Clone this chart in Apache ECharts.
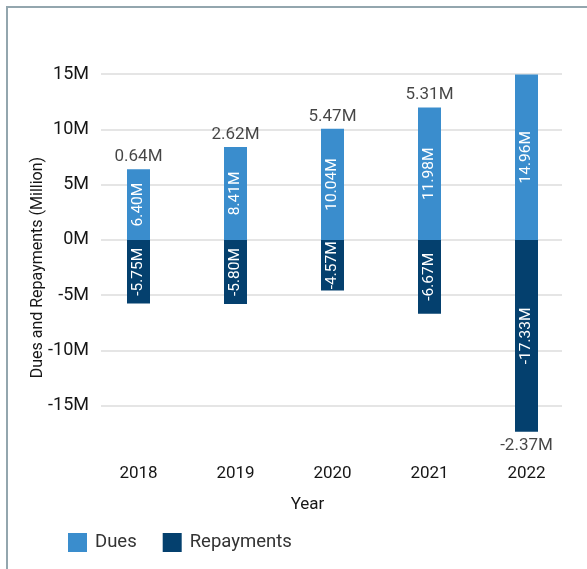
<!DOCTYPE html>
<html>
<head>
<meta charset="utf-8">
<script src="https://cdn.jsdelivr.net/npm/echarts@6/dist/echarts.min.js"></script>
<style>
  html, body { margin: 0; padding: 0; background: #fff; }
  #chart { width: 587px; height: 569px; }
</style>
</head>
<body>
<div id="chart"></div>
<script>
// Yearly dues and repayments (in millions)
const years = ['2018', '2019', '2020', '2021', '2022'];
const dues = [6.40, 8.41, 10.04, 11.98, 14.96];
const repayments = [-5.75, -5.80, -4.57, -6.67, -17.33];
const netBalance = [0.64, 2.62, 5.47, 5.31, -2.37];
const yTicks = { min: -15, max: 15, step: 5 };

const FONT = 'Roboto, sans-serif';
const TEXT = '#161616';
const DUES_COLOR = '#3a8dcd';
const REPAY_COLOR = '#04406e';

const chart = echarts.init(document.getElementById('chart'), null, { renderer: 'canvas' });

// Net label sits above the stack when positive, below it when negative
const netPoints = years.map((y, i) => {
  const positive = netBalance[i] >= 0;
  return {
    value: [y, positive ? dues[i] : repayments[i]],
    net: netBalance[i],
    label: { position: positive ? 'top' : 'bottom', distance: positive ? 4 : 6 }
  };
});

chart.setOption({
  animation: false,
  textStyle: { fontFamily: FONT },
  graphic: [{
    type: 'rect',
    shape: { x: 7, y: 7, width: 700, height: 700 },
    style: { fill: 'none', stroke: '#93a6ae', lineWidth: 2 },
    silent: true
  }],
  legend: {
    left: 63, top: 528,
    icon: 'rect',
    itemWidth: 19, itemHeight: 19, itemGap: 26,
    textStyle: { fontSize: 18.5, color: '#333', fontFamily: FONT, padding: [0, 0, 0, 3] },
    data: ['Dues', 'Repayments']
  },
  grid: [
    { left: 101, right: 25, top: 74, bottom: 163.3 },
    { left: 90, right: 12, top: 74, bottom: 107.8 }
  ],
  xAxis: [
    { gridIndex: 0, type: 'value', show: false },
    {
      gridIndex: 1, type: 'category', data: years,
      axisLine: { show: false }, axisTick: { show: false },
      axisLabel: { fontSize: 17, color: TEXT, margin: 4, fontFamily: FONT },
      name: 'Year', nameLocation: 'middle', nameGap: 35,
      nameTextStyle: { fontSize: 17, color: TEXT, fontFamily: FONT, padding: [0, 50, 0, 0] }
    }
  ],
  yAxis: [
    {
      gridIndex: 0, type: 'value',
      min: yTicks.min, max: yTicks.max, interval: yTicks.step,
      axisLine: { show: false }, axisTick: { show: false },
      axisLabel: { fontSize: 18, color: TEXT, margin: 12, fontFamily: FONT, formatter: v => v + 'M' },
      splitLine: { lineStyle: { color: '#dcdcdc', width: 1.5 } }
    },
    {
      gridIndex: 1, type: 'value', min: -20, max: 15, interval: 5,
      axisLine: { show: false }, axisTick: { show: false },
      axisLabel: { show: false }, splitLine: { show: false },
      name: 'Dues and Repayments (Million)', nameLocation: 'middle', nameGap: 44,
      nameTextStyle: { fontSize: 16, color: TEXT, fontFamily: FONT }
    }
  ],
  series: [
    {
      name: 'Dues', type: 'bar', stack: 'total', xAxisIndex: 1, yAxisIndex: 1,
      barWidth: 23, data: dues, itemStyle: { color: DUES_COLOR },
      label: { show: true, position: 'inside', rotate: 90, color: '#fff', fontSize: 15.5,
        fontFamily: FONT, formatter: p => p.value.toFixed(2) + 'M' }
    },
    {
      name: 'Repayments', type: 'bar', stack: 'total', xAxisIndex: 1, yAxisIndex: 1,
      barWidth: 23, data: repayments, itemStyle: { color: REPAY_COLOR },
      label: { show: true, position: 'inside', rotate: 90, color: '#fff', fontSize: 15.5,
        fontFamily: FONT, formatter: p => p.value.toFixed(2) + 'M' }
    },
    {
      name: 'Net', type: 'scatter', xAxisIndex: 1, yAxisIndex: 1,
      symbolSize: 0, data: netPoints, silent: true,
      label: { show: true, color: TEXT, fontSize: 17, fontFamily: FONT,
        formatter: p => p.data.net.toFixed(2) + 'M' }
    }
  ]
});
</script>
</body>
</html>
